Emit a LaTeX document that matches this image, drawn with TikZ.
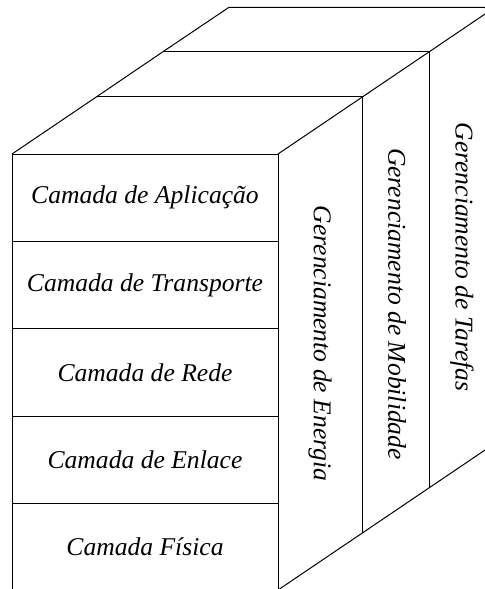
\documentclass[tikz,border=0pt]{standalone}
\usepackage{fontspec}
\setmainfont{Liberation Serif}

\begin{document}
\begin{tikzpicture}[x=0.5pt,y=-0.5pt,line width=0.5pt,
    camada/.style={font=\itshape\fontsize{12.8}{15}\selectfont},
    gerencia/.style={camada,rotate=-90}]
      \clip (0,0) rectangle (485,589);
      % face frontal
      \coordinate (ftl) at (12,154);
      \coordinate (ftr) at (278,154);
      \coordinate (fbr) at (278,590);
      \coordinate (fbl) at (12,590);
      \draw (fbl) -- (ftl) -- (ftr) -- (fbr) -- cycle;
      \foreach \y in {241.4,328.8,416.1,503.5} {\draw (12,\y) -- (278,\y);}
      % topo e fatias laterais
      \coordinate (t1) at (96.7,96.7);
      \coordinate (t2) at (163,51.7);
      \coordinate (t3) at (229,7.3);
      \coordinate (r1) at (362.7,96.7);
      \coordinate (r2) at (429,51.7);
      \coordinate (r3) at (495,7.3);
      \coordinate (b1) at (362.7,532.7);
      \coordinate (b2) at (429,487.7);
      \coordinate (b3) at (495,443.3);
      \draw (ftl) -- (t1) -- (t2) -- (t3) -- (r3);
      \draw (t1) -- (r1);
      \draw (t2) -- (r2);
      \draw (ftr) -- (r3);
      \draw (r1) -- (b1);
      \draw (r2) -- (b2);
      \draw (r3) -- (b3);
      \draw (fbr) -- (b3);
      % camadas
      \node[camada] (aplicacao) at (145,197.7) {Camada de Aplicação};
      \node[camada] (transporte) at (145,285.1) {Camada de Transporte};
      \node[camada] (rede) at (145,372.5) {Camada de Rede};
      \node[camada] (enlace) at (145,459.8) {Camada de Enlace};
      \node[camada] (fisica) at (145,547.2) {Camada Física};
      % planos de gerenciamento
      \node[gerencia] (energia) at (320,343.5) {Gerenciamento de Energia};
      \node[gerencia] (mobilidade) at (397,304) {Gerenciamento de Mobilidade};
      \node[gerencia] (tarefas) at (462,257) {Gerenciamento de Tarefas};
\end{tikzpicture}
\end{document}
